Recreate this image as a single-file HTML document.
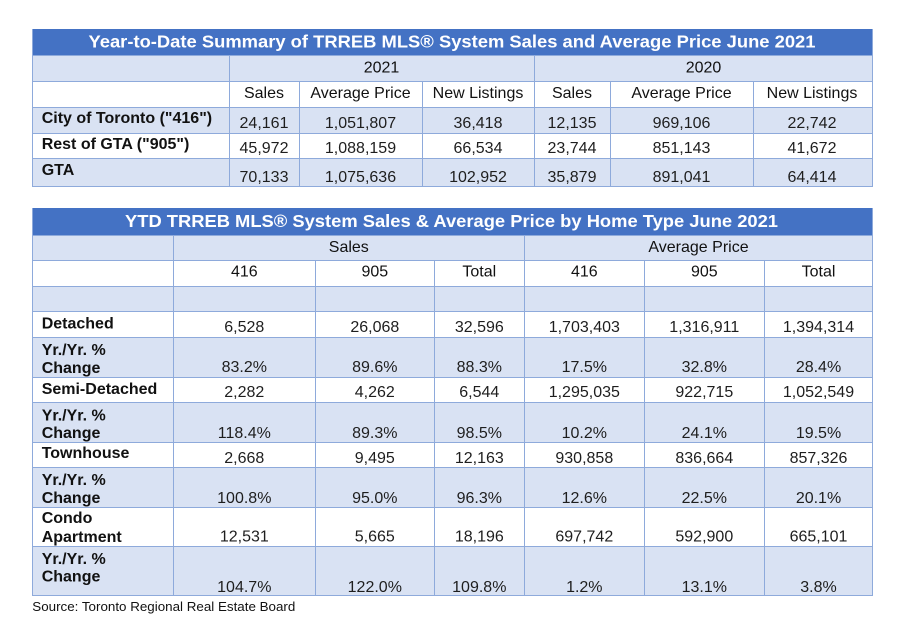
<!DOCTYPE html>
<html>
<head>
<meta charset="utf-8">
<style>
  html,body{margin:0;padding:0;background:#fff;}
  svg{display:block;}
  text{font-family:"Liberation Sans", Arial, sans-serif;}
  .lbl{font-weight:bold;font-size:16px;fill:#111;}
  .num{font-size:16px;fill:#1e1e1e;text-anchor:middle;}
  .hdr{font-size:16px;fill:#111;text-anchor:middle;}
  .ttl{font-weight:bold;font-size:17.5px;fill:#fff;text-anchor:middle;}
</style>
</head>
<body>
<svg width="904" height="617" viewBox="0 0 904 617" xmlns="http://www.w3.org/2000/svg">
  <rect x="0" y="0" width="904" height="617" fill="#fff"/>

  <!-- ============ TABLE 1 ============ -->
  <rect x="32" y="29" width="841" height="26" fill="#4472C4"/>
  <rect x="32" y="55" width="841" height="26" fill="#D9E2F3"/>
  <rect x="32" y="81" width="841" height="26" fill="#FFFFFF"/>
  <rect x="32" y="107" width="841" height="26" fill="#D9E2F3"/>
  <rect x="32" y="133" width="841" height="25" fill="#FFFFFF"/>
  <rect x="32" y="158" width="841" height="28" fill="#D9E2F3"/>

  <g stroke="#8EAADB" stroke-width="1" fill="none">
    <line x1="32" y1="55.5" x2="873" y2="55.5"/>
    <line x1="32" y1="81.5" x2="873" y2="81.5"/>
    <line x1="32" y1="107.5" x2="873" y2="107.5"/>
    <line x1="32" y1="133.5" x2="873" y2="133.5"/>
    <line x1="32" y1="158.5" x2="873" y2="158.5"/>
    <line x1="32" y1="186.5" x2="873" y2="186.5"/>
    <line x1="32.5" y1="29" x2="32.5" y2="187"/>
    <line x1="872.5" y1="29" x2="872.5" y2="187"/>
    <line x1="229.5" y1="55" x2="229.5" y2="187"/>
    <line x1="534.5" y1="55" x2="534.5" y2="187"/>
    <line x1="299.5" y1="81" x2="299.5" y2="187"/>
    <line x1="422.5" y1="81" x2="422.5" y2="187"/>
    <line x1="610.5" y1="81" x2="610.5" y2="187"/>
    <line x1="753.5" y1="81" x2="753.5" y2="187"/>
  </g>

  <text class="ttl" x="452" y="47.7" textLength="727" lengthAdjust="spacingAndGlyphs">Year-to-Date Summary of TRREB MLS® System Sales and Average Price June 2021</text>

  <text class="hdr" x="381.5" y="72.5">2021</text>
  <text class="hdr" x="703.5" y="72.5">2020</text>

  <text class="hdr" x="264" y="98">Sales</text>
  <text class="hdr" x="360.5" y="98">Average Price</text>
  <text class="hdr" x="478" y="98">New Listings</text>
  <text class="hdr" x="572" y="98">Sales</text>
  <text class="hdr" x="681.5" y="98">Average Price</text>
  <text class="hdr" x="812" y="98">New Listings</text>

  <text class="lbl" x="41.7" y="123">City of Toronto ("416")</text>
  <text class="num" x="264" y="128">24,161</text>
  <text class="num" x="360.5" y="128">1,051,807</text>
  <text class="num" x="478" y="128">36,418</text>
  <text class="num" x="572" y="128">12,135</text>
  <text class="num" x="681.5" y="128">969,106</text>
  <text class="num" x="812" y="128">22,742</text>

  <text class="lbl" x="41.7" y="149">Rest of GTA ("905")</text>
  <text class="num" x="264" y="153">45,972</text>
  <text class="num" x="360.5" y="153">1,088,159</text>
  <text class="num" x="478" y="153">66,534</text>
  <text class="num" x="572" y="153">23,744</text>
  <text class="num" x="681.5" y="153">851,143</text>
  <text class="num" x="812" y="153">41,672</text>

  <text class="lbl" x="41.7" y="175">GTA</text>
  <text class="num" x="264" y="182">70,133</text>
  <text class="num" x="360.5" y="182">1,075,636</text>
  <text class="num" x="478" y="182">102,952</text>
  <text class="num" x="572" y="182">35,879</text>
  <text class="num" x="681.5" y="182">891,041</text>
  <text class="num" x="812" y="182">64,414</text>

  <!-- ============ TABLE 2 ============ -->
  <rect x="32" y="208" width="841" height="27" fill="#4472C4"/>
  <rect x="32" y="235" width="841" height="25.7" fill="#D9E2F3"/>
  <rect x="32" y="260.7" width="841" height="25.3" fill="#FFFFFF"/>
  <rect x="32" y="286" width="841" height="25.7" fill="#D9E2F3"/>
  <rect x="32" y="311.7" width="841" height="25.6" fill="#FFFFFF"/>
  <rect x="32" y="337.3" width="841" height="40.4" fill="#D9E2F3"/>
  <rect x="32" y="377.7" width="841" height="24.6" fill="#FFFFFF"/>
  <rect x="32" y="402.3" width="841" height="40.4" fill="#D9E2F3"/>
  <rect x="32" y="442.7" width="841" height="24.6" fill="#FFFFFF"/>
  <rect x="32" y="467.3" width="841" height="40.4" fill="#D9E2F3"/>
  <rect x="32" y="507.7" width="841" height="39" fill="#FFFFFF"/>
  <rect x="32" y="546.7" width="841" height="49" fill="#D9E2F3"/>

  <g stroke="#8EAADB" stroke-width="1" fill="none">
    <line x1="32" y1="235.5" x2="873" y2="235.5"/>
    <line x1="32" y1="260.5" x2="873" y2="260.5"/>
    <line x1="32" y1="286.5" x2="873" y2="286.5"/>
    <line x1="32" y1="311.5" x2="873" y2="311.5"/>
    <line x1="32" y1="337.5" x2="873" y2="337.5"/>
    <line x1="32" y1="377.5" x2="873" y2="377.5"/>
    <line x1="32" y1="402.5" x2="873" y2="402.5"/>
    <line x1="32" y1="442.5" x2="873" y2="442.5"/>
    <line x1="32" y1="467.5" x2="873" y2="467.5"/>
    <line x1="32" y1="507.5" x2="873" y2="507.5"/>
    <line x1="32" y1="546.5" x2="873" y2="546.5"/>
    <line x1="32" y1="595.5" x2="873" y2="595.5"/>
    <line x1="32.5" y1="208" x2="32.5" y2="596"/>
    <line x1="872.5" y1="208" x2="872.5" y2="596"/>
    <line x1="173.5" y1="235" x2="173.5" y2="596"/>
    <line x1="524.5" y1="235" x2="524.5" y2="596"/>
    <line x1="315.5" y1="260.7" x2="315.5" y2="596"/>
    <line x1="434.5" y1="260.7" x2="434.5" y2="596"/>
    <line x1="644.5" y1="260.7" x2="644.5" y2="596"/>
    <line x1="764.5" y1="260.7" x2="764.5" y2="596"/>
  </g>

  <text class="ttl" x="451.5" y="227" textLength="653" lengthAdjust="spacingAndGlyphs">YTD TRREB MLS® System Sales &amp; Average Price by Home Type June 2021</text>

  <text class="hdr" x="348.8" y="252">Sales</text>
  <text class="hdr" x="698.5" y="252">Average Price</text>

  <text class="hdr" x="244.3" y="276.5">416</text>
  <text class="hdr" x="374.8" y="276.5">905</text>
  <text class="hdr" x="479.3" y="276.5">Total</text>
  <text class="hdr" x="584.3" y="276.5">416</text>
  <text class="hdr" x="704.3" y="276.5">905</text>
  <text class="hdr" x="818.5" y="276.5">Total</text>

  <!-- Detached -->
  <text class="lbl" x="41.7" y="328.5">Detached</text>
  <text class="num" x="244.3" y="332">6,528</text>
  <text class="num" x="374.8" y="332">26,068</text>
  <text class="num" x="479.3" y="332">32,596</text>
  <text class="num" x="584.3" y="332">1,703,403</text>
  <text class="num" x="704.3" y="332">1,316,911</text>
  <text class="num" x="818.5" y="332">1,394,314</text>

  <text class="lbl" x="41.7" y="355">Yr./Yr. %</text>
  <text class="lbl" x="41.7" y="373">Change</text>
  <text class="num" x="244.3" y="372">83.2%</text>
  <text class="num" x="374.8" y="372">89.6%</text>
  <text class="num" x="479.3" y="372">88.3%</text>
  <text class="num" x="584.3" y="372">17.5%</text>
  <text class="num" x="704.3" y="372">32.8%</text>
  <text class="num" x="818.5" y="372">28.4%</text>

  <!-- Semi -->
  <text class="lbl" x="41.7" y="394">Semi-Detached</text>
  <text class="num" x="244.3" y="397">2,282</text>
  <text class="num" x="374.8" y="397">4,262</text>
  <text class="num" x="479.3" y="397">6,544</text>
  <text class="num" x="584.3" y="397">1,295,035</text>
  <text class="num" x="704.3" y="397">922,715</text>
  <text class="num" x="818.5" y="397">1,052,549</text>

  <text class="lbl" x="41.7" y="420.5">Yr./Yr. %</text>
  <text class="lbl" x="41.7" y="438">Change</text>
  <text class="num" x="244.3" y="438">118.4%</text>
  <text class="num" x="374.8" y="438">89.3%</text>
  <text class="num" x="479.3" y="438">98.5%</text>
  <text class="num" x="584.3" y="438">10.2%</text>
  <text class="num" x="704.3" y="438">24.1%</text>
  <text class="num" x="818.5" y="438">19.5%</text>

  <!-- Townhouse -->
  <text class="lbl" x="41.7" y="458">Townhouse</text>
  <text class="num" x="244.3" y="463">2,668</text>
  <text class="num" x="374.8" y="463">9,495</text>
  <text class="num" x="479.3" y="463">12,163</text>
  <text class="num" x="584.3" y="463">930,858</text>
  <text class="num" x="704.3" y="463">836,664</text>
  <text class="num" x="818.5" y="463">857,326</text>

  <text class="lbl" x="41.7" y="485">Yr./Yr. %</text>
  <text class="lbl" x="41.7" y="503">Change</text>
  <text class="num" x="244.3" y="503">100.8%</text>
  <text class="num" x="374.8" y="503">95.0%</text>
  <text class="num" x="479.3" y="503">96.3%</text>
  <text class="num" x="584.3" y="503">12.6%</text>
  <text class="num" x="704.3" y="503">22.5%</text>
  <text class="num" x="818.5" y="503">20.1%</text>

  <!-- Condo -->
  <text class="lbl" x="41.7" y="523">Condo</text>
  <text class="lbl" x="41.7" y="542">Apartment</text>
  <text class="num" x="244.3" y="541.7">12,531</text>
  <text class="num" x="374.8" y="541.7">5,665</text>
  <text class="num" x="479.3" y="541.7">18,196</text>
  <text class="num" x="584.3" y="541.7">697,742</text>
  <text class="num" x="704.3" y="541.7">592,900</text>
  <text class="num" x="818.5" y="541.7">665,101</text>

  <text class="lbl" x="41.7" y="564">Yr./Yr. %</text>
  <text class="lbl" x="41.7" y="581.5">Change</text>
  <text class="num" x="244.3" y="592">104.7%</text>
  <text class="num" x="374.8" y="592">122.0%</text>
  <text class="num" x="479.3" y="592">109.8%</text>
  <text class="num" x="584.3" y="592">1.2%</text>
  <text class="num" x="704.3" y="592">13.1%</text>
  <text class="num" x="818.5" y="592">3.8%</text>

  <text x="32.3" y="611" font-size="13.3" fill="#111" textLength="263" lengthAdjust="spacingAndGlyphs">Source: Toronto Regional Real Estate Board</text>
</svg>
</body>
</html>
